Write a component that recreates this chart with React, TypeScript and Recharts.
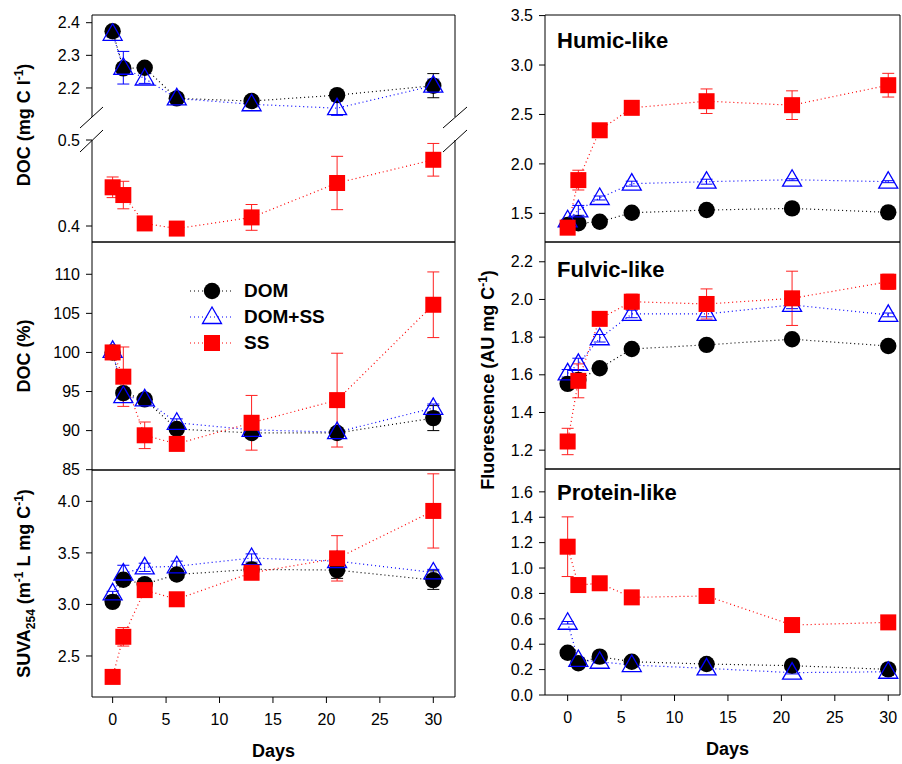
import React from 'react';
import { LineChart, Line, XAxis, YAxis, ErrorBar, ReferenceLine, Label, Legend } from 'recharts';

// ---------- data ----------
const DAYS = [0, 1, 3, 6, 13, 21, 30];
const X_TICKS = [0, 5, 10, 15, 20, 25, 30];
const SERIES_KEYS = ['dom', 'domss', 'ss'];
const SERIES_NAMES = ['DOM', 'DOM+SS', 'SS'];

// DOC (mg C l-1)
const DOC_DOM = [2.374, 2.26, 2.262, 2.168, 2.16, 2.178, 2.207];
const DOC_DOM_ERR = [0.012, 0.01, 0.008, 0.006, 0.005, 0.012, 0.037];
const DOC_DOMSS = [2.366, 2.262, 2.229, 2.168, 2.15, 2.138, 2.207];
const DOC_DOMSS_ERR = [0.01, 0.05, 0.015, 0.012, 0.008, 0.022, 0.02];
const DOC_SS = [0.445, 0.436, 0.403, 0.397, 0.41, 0.45, 0.477];
const DOC_SS_ERR = [0.012, 0.016, 0.003, 0.003, 0.015, 0.031, 0.019];

// DOC (%)
const PCT_DOM = [100.0, 94.8, 94.0, 90.2, 89.7, 89.7, 91.6];
const PCT_DOM_ERR = [0.3, 0.6, 0.5, 0.6, 0.5, 0.6, 1.6];
const PCT_DOMSS = [100.2, 94.4, 94.0, 91.0, 90.1, 89.8, 92.9];
const PCT_DOMSS_ERR = [0.5, 0.8, 0.6, 0.5, 0.4, 0.4, 0.5];
const PCT_SS = [100.0, 96.9, 89.4, 88.3, 91.0, 93.9, 106.1];
const PCT_SS_ERR = [0.3, 3.8, 1.7, 0.7, 3.5, 6.0, 4.2];

// SUVA254
const SUVA_DOM = [3.025, 3.24, 3.197, 3.29, 3.34, 3.333, 3.236];
const SUVA_DOM_ERR = [0.03, 0.05, 0.03, 0.03, 0.03, 0.08, 0.09];
const SUVA_DOMSS = [3.107, 3.3, 3.36, 3.37, 3.45, 3.42, 3.31];
const SUVA_DOMSS_ERR = [0.02, 0.08, 0.04, 0.05, 0.04, 0.03, 0.03];
const SUVA_SS = [2.297, 2.686, 3.139, 3.05, 3.307, 3.447, 3.907];
const SUVA_SS_ERR = [0.03, 0.09, 0.02, 0.02, 0.04, 0.22, 0.36];

// Humic-like
const HUM_DOM = [1.382, 1.4, 1.415, 1.506, 1.533, 1.55, 1.51];
const HUM_DOM_ERR = [0.01, 0.01, 0.01, 0.01, 0.01, 0.01, 0.01];
const HUM_DOMSS = [1.43, 1.53, 1.655, 1.8, 1.82, 1.84, 1.82];
const HUM_DOMSS_ERR = [0.01, 0.05, 0.02, 0.025, 0.025, 0.01, 0.01];
const HUM_SS = [1.355, 1.836, 2.34, 2.567, 2.634, 2.594, 2.796];
const HUM_SS_ERR = [0.02, 0.1, 0.03, 0.03, 0.124, 0.145, 0.12];

// Fulvic-like
const FUL_DOM = [1.552, 1.573, 1.635, 1.737, 1.759, 1.789, 1.753];
const FUL_DOM_ERR = [0.01, 0.01, 0.01, 0.01, 0.01, 0.01, 0.01];
const FUL_DOMSS = [1.608, 1.658, 1.794, 1.923, 1.923, 1.971, 1.918];
const FUL_DOMSS_ERR = [0.02, 0.03, 0.02, 0.02, 0.015, 0.02, 0.01];
const FUL_SS = [1.246, 1.568, 1.897, 1.988, 1.976, 2.006, 2.094];
const FUL_SS_ERR = [0.07, 0.09, 0.02, 0.04, 0.08, 0.144, 0.04];

// Protein-like
const PRO_DOM = [0.333, 0.25, 0.302, 0.262, 0.244, 0.231, 0.202];
const PRO_DOM_ERR = [0.01, 0.01, 0.01, 0.01, 0.01, 0.01, 0.01];
const PRO_DOMSS = [0.569, 0.276, 0.262, 0.236, 0.21, 0.176, 0.183];
const PRO_DOMSS_ERR = [0.01, 0.02, 0.01, 0.01, 0.01, 0.01, 0.01];
const PRO_SS = [1.168, 0.866, 0.88, 0.769, 0.78, 0.551, 0.572];
const PRO_SS_ERR = [0.235, 0.01, 0.03, 0.01, 0.01, 0.01, 0.02];

// tick values
const DOC_TOP_TICKS = [2.2, 2.3, 2.4];
const DOC_BOT_TICKS = [0.4, 0.5];
const PCT_TICKS = [85, 90, 95, 100, 105, 110];
const SUVA_TICKS = [2.5, 3.0, 3.5, 4.0];
const HUM_TICKS = [1.5, 2.0, 2.5, 3.0, 3.5];
const FUL_TICKS = [1.2, 1.4, 1.6, 1.8, 2.0, 2.2];
const PRO_TICKS = [0, 0.2, 0.4, 0.6, 0.8, 1.0, 1.2, 1.4, 1.6];

function buildRows(
  dom: number[], domErr: number[], domss: number[], domssErr: number[], ss: number[], ssErr: number[]
) {
  return DAYS.map((day, i) => ({
    day,
    dom: dom[i], domErr: domErr[i],
    domss: domss[i], domssErr: domssErr[i],
    ss: ss[i], ssErr: ssErr[i],
  }));
}

const DOC_ROWS = buildRows(DOC_DOM, DOC_DOM_ERR, DOC_DOMSS, DOC_DOMSS_ERR, DOC_SS, DOC_SS_ERR);
const PCT_ROWS = buildRows(PCT_DOM, PCT_DOM_ERR, PCT_DOMSS, PCT_DOMSS_ERR, PCT_SS, PCT_SS_ERR);
const SUVA_ROWS = buildRows(SUVA_DOM, SUVA_DOM_ERR, SUVA_DOMSS, SUVA_DOMSS_ERR, SUVA_SS, SUVA_SS_ERR);
const HUM_ROWS = buildRows(HUM_DOM, HUM_DOM_ERR, HUM_DOMSS, HUM_DOMSS_ERR, HUM_SS, HUM_SS_ERR);
const FUL_ROWS = buildRows(FUL_DOM, FUL_DOM_ERR, FUL_DOMSS, FUL_DOMSS_ERR, FUL_SS, FUL_SS_ERR);
const PRO_ROWS = buildRows(PRO_DOM, PRO_DOM_ERR, PRO_DOMSS, PRO_DOMSS_ERR, PRO_SS, PRO_SS_ERR);

// ---------- styles ----------
const FONT = '"Liberation Sans", Arial, Helvetica, sans-serif';
const STYLE: Record<string, { line: string; err: string; shape: string }> = {
  dom: { line: '#000000', err: '#000000', shape: 'circle' },
  domss: { line: '#0000ff', err: '#0000ff', shape: 'triangle' },
  ss: { line: '#ff0000', err: '#ff2020', shape: 'square' },
};

function Marker({ shape, cx, cy }: { shape: string; cx: number; cy: number }) {
  if (shape === 'circle') return <circle cx={cx} cy={cy} r={8.2} fill="#000" />;
  if (shape === 'square') return <rect x={cx - 8} y={cy - 8} width={16} height={16} fill="#ff0000" />;
  return (
    <polygon
      points={`${cx},${cy - 10} ${cx - 9.5},${cy + 6.5} ${cx + 9.5},${cy + 6.5}`}
      fill="none"
      stroke="#0000ff"
      strokeWidth={1.3}
    />
  );
}

const dotRenderer = (key: string) => (props: any) => {
  const { cx, cy, index } = props;
  if (cx == null || cy == null || isNaN(cx) || isNaN(cy)) return <g key={`${key}-${index}`} />;
  return <Marker key={`${key}-${index}`} shape={STYLE[key].shape} cx={cx} cy={cy} />;
};

const X_LEFT: [number, number] = [-1.93, 32.03];
const X_RIGHT: [number, number] = [-2.12, 31.1];

type PanelProps = {
  plotLeft: number;
  plotTop: number;
  plotW: number;
  plotH: number;
  xDomain: [number, number];
  yDomain: [number, number];
  yTicks: number[];
  decimals: number;
  rows: any[];
  series: string[];
  showXAxis: boolean;
  showXLabels: boolean;
  showTop: boolean;
  padBottom: number;
  yLabel?: React.ReactNode;
  yLabelX?: number;
  yLabelDy?: number;
  xLabelDx?: number;
  title?: string;
  titleBaseline?: number;
  legend?: boolean;
};

function LegendBox(props: any) {
  const payload = (props && props.payload) || [];
  const keys: string[] = payload.length
    ? payload.map((p: any) => String(p.dataKey))
    : SERIES_KEYS;
  return (
    <div style={{ fontFamily: FONT }}>
      {keys.map((k) => {
        const idx = SERIES_KEYS.indexOf(k);
        return (
          <div key={k} style={{ display: 'flex', alignItems: 'center', height: 26 }}>
            <svg width={44} height={26} style={{ overflow: 'visible' }}>
              <line x1={0} y1={13} x2={44} y2={13} stroke={STYLE[k].line} strokeWidth={1.2} strokeDasharray="1 3" />
              <Marker shape={STYLE[k].shape} cx={22} cy={13} />
            </svg>
            <span style={{ marginLeft: 10, fontSize: 19, fontWeight: 'bold', color: '#000', lineHeight: '26px' }}>
              {SERIES_NAMES[idx]}
            </span>
          </div>
        );
      })}
    </div>
  );
}

function Panel(p: PanelProps) {
  const Y_W = 80;
  const chartW = Y_W + p.plotW + 2;
  const chartH = 10 + p.plotH + p.padBottom;
  const fmt = (v: number) => Number(v).toFixed(p.decimals);
  const plotCx = Y_W + p.plotW / 2;
  const plotCy = 10 + p.plotH / 2;
  return (
    <div style={{ position: 'absolute', left: p.plotLeft - Y_W, top: p.plotTop - 10 }}>
      <LineChart
        width={chartW}
        height={chartH}
        data={p.rows}
        margin={{ top: 10, right: 2, left: 0, bottom: p.showXAxis ? 0 : p.padBottom }}
      >
        <XAxis
          dataKey="day"
          type="number"
          domain={p.xDomain}
          allowDataOverflow
          ticks={X_TICKS}
          interval={0}
          hide={!p.showXAxis}
          height={p.padBottom}
          tickSize={6}
          tickMargin={11}
          axisLine={{ stroke: '#000', strokeWidth: 1 }}
          tickLine={{ stroke: '#000', strokeWidth: 1 }}
          tick={p.showXLabels ? { fontSize: 16, fill: '#000', fontFamily: FONT } : false}
        >
          {p.showXLabels && (
            <Label
              content={() => (
                <text
                  x={plotCx + (p.xLabelDx || 0)}
                  y={10 + p.plotH + 60}
                  textAnchor="middle"
                  fontSize={18}
                  fontWeight="bold"
                  fontFamily={FONT}
                  fill="#000"
                >
                  Days
                </text>
              )}
            />
          )}
        </XAxis>
        <YAxis
          type="number"
          domain={p.yDomain}
          allowDataOverflow
          ticks={p.yTicks}
          interval={0}
          width={Y_W}
          tickSize={6}
          tickMargin={6}
          tickFormatter={fmt}
          axisLine={{ stroke: '#000', strokeWidth: 1 }}
          tickLine={{ stroke: '#000', strokeWidth: 1 }}
          tick={{ fontSize: 16, fill: '#000', fontFamily: FONT }}
        >
          {p.yLabel && (
            <Label
              content={() => {
                const x = p.yLabelX || 18;
                const y = plotCy + (p.yLabelDy || 0);
                return (
                  <text
                    x={x}
                    y={y}
                    transform={`rotate(-90 ${x} ${y})`}
                    textAnchor="middle"
                    fontSize={18}
                    fontWeight="bold"
                    fontFamily={FONT}
                    fill="#000"
                  >
                    {p.yLabel}
                  </text>
                );
              }}
            />
          )}
          {p.title && (
            <Label
              content={() => (
                <text
                  x={Y_W + 12}
                  y={10 + (p.titleBaseline || 32)}
                  textAnchor="start"
                  fontSize={22}
                  fontWeight="bold"
                  fontFamily={FONT}
                  fill="#000"
                >
                  {p.title}
                </text>
              )}
            />
          )}
        </YAxis>
        <ReferenceLine x={p.xDomain[1]} stroke="#000" strokeWidth={1} ifOverflow="visible" />
        {p.showTop && <ReferenceLine y={p.yDomain[1]} stroke="#000" strokeWidth={1} ifOverflow="visible" />}
        {p.series.map((s) => (
          <Line
            key={s}
            dataKey={s}
            name={SERIES_NAMES[SERIES_KEYS.indexOf(s)]}
            type="linear"
            stroke={STYLE[s].line}
            strokeWidth={1.2}
            strokeDasharray="1 3"
            dot={dotRenderer(s)}
            activeDot={false}
            isAnimationActive={false}
          >
            <ErrorBar dataKey={`${s}Err`} width={6} stroke={STYLE[s].err} strokeWidth={1} direction="y" />
          </Line>
        ))}
        {p.legend && (
          <Legend
            layout="vertical"
            align="center"
            verticalAlign="middle"
            content={LegendBox}
            wrapperStyle={{ left: 178, top: 46, width: 'auto', height: 'auto' }}
          />
        )}
      </LineChart>
    </div>
  );
}

const DOC_LABEL = (
  <>
    <tspan>DOC (mg C l</tspan>
    <tspan dy={-7} fontSize={12}>-1</tspan>
    <tspan dy={7}>)</tspan>
  </>
);
const PCT_LABEL = <tspan>DOC (%)</tspan>;
const SUVA_LABEL = (
  <>
    <tspan>SUVA</tspan>
    <tspan dy={5} fontSize={12}>254</tspan>
    <tspan dy={-5}> (m</tspan>
    <tspan dy={-7} fontSize={12}>-1</tspan>
    <tspan dy={7}> L mg C</tspan>
    <tspan dy={-7} fontSize={12}>-1</tspan>
    <tspan dy={7}>)</tspan>
  </>
);
const FLUO_LABEL = (
  <>
    <tspan>Fluorescence (AU mg C</tspan>
    <tspan dy={-7} fontSize={12}>-1</tspan>
    <tspan dy={7}>)</tspan>
  </>
);

function BreakMarks() {
  const segs = [
    [80, 128, 103, 107],
    [80, 152, 103, 130],
    [443, 128, 467, 107],
    [443, 152, 467, 130],
  ];
  return (
    <svg width={902} height={764} style={{ position: 'absolute', left: 0, top: 0, pointerEvents: 'none' }}>
      {segs.map((s, i) => (
        <line key={i} x1={s[0]} y1={s[1]} x2={s[2]} y2={s[3]} stroke="#000" strokeWidth={1} />
      ))}
    </svg>
  );
}

export default function App() {
  return (
    <div
      style={{
        position: 'absolute',
        left: 0,
        top: 0,
        width: 902,
        height: 764,
        overflow: 'hidden',
        background: '#fff',
        fontFamily: FONT,
      }}
    >
      {/* Left column */}
      <Panel
        plotLeft={92} plotTop={15} plotW={363} plotH={102}
        xDomain={X_LEFT} yDomain={[2.111, 2.4236]} yTicks={DOC_TOP_TICKS} decimals={1}
        rows={DOC_ROWS} series={['dom', 'domss']}
        showXAxis={false} showXLabels={false} showTop={true} padBottom={100}
        yLabel={DOC_LABEL} yLabelX={18} yLabelDy={59}
      />
      <Panel
        plotLeft={92} plotTop={140} plotW={363} plotH={102}
        xDomain={X_LEFT} yDomain={[0.3814, 0.5]} yTicks={DOC_BOT_TICKS} decimals={1}
        rows={DOC_ROWS} series={['ss']}
        showXAxis={true} showXLabels={false} showTop={false} padBottom={20}
      />
      <Panel
        plotLeft={92} plotTop={242} plotW={363} plotH={228}
        xDomain={X_LEFT} yDomain={[84.96, 114.13]} yTicks={PCT_TICKS} decimals={0}
        rows={PCT_ROWS} series={['dom', 'domss', 'ss']}
        showXAxis={true} showXLabels={false} showTop={true} padBottom={20}
        yLabel={PCT_LABEL} yLabelX={18} legend
      />
      <Panel
        plotLeft={92} plotTop={470} plotW={363} plotH={227}
        xDomain={X_LEFT} yDomain={[2.102, 4.304]} yTicks={SUVA_TICKS} decimals={1}
        rows={SUVA_ROWS} series={['dom', 'domss', 'ss']}
        showXAxis={true} showXLabels={true} showTop={true} padBottom={72}
        yLabel={SUVA_LABEL} yLabelX={18} xLabelDx={0}
      />
      {/* Right column */}
      <Panel
        plotLeft={545} plotTop={15} plotW={355} plotH={227}
        xDomain={X_RIGHT} yDomain={[1.21, 3.506]} yTicks={HUM_TICKS} decimals={1}
        rows={HUM_ROWS} series={['dom', 'domss', 'ss']}
        showXAxis={true} showXLabels={false} showTop={true} padBottom={20}
        title="Humic-like" titleBaseline={33}
      />
      <Panel
        plotLeft={545} plotTop={242} plotW={355} plotH={227}
        xDomain={X_RIGHT} yDomain={[1.1, 2.305]} yTicks={FUL_TICKS} decimals={1}
        rows={FUL_ROWS} series={['dom', 'domss', 'ss']}
        showXAxis={true} showXLabels={false} showTop={true} padBottom={45}
        title="Fulvic-like" titleBaseline={35}
        yLabel={FLUO_LABEL} yLabelX={29} yLabelDy={24.5}
      />
      <Panel
        plotLeft={545} plotTop={469} plotW={355} plotH={226}
        xDomain={X_RIGHT} yDomain={[0, 1.78]} yTicks={PRO_TICKS} decimals={1}
        rows={PRO_ROWS} series={['dom', 'domss', 'ss']}
        showXAxis={true} showXLabels={true} showTop={true} padBottom={72}
        title="Protein-like" titleBaseline={31} xLabelDx={5}
      />
      <BreakMarks />
    </div>
  );
}
